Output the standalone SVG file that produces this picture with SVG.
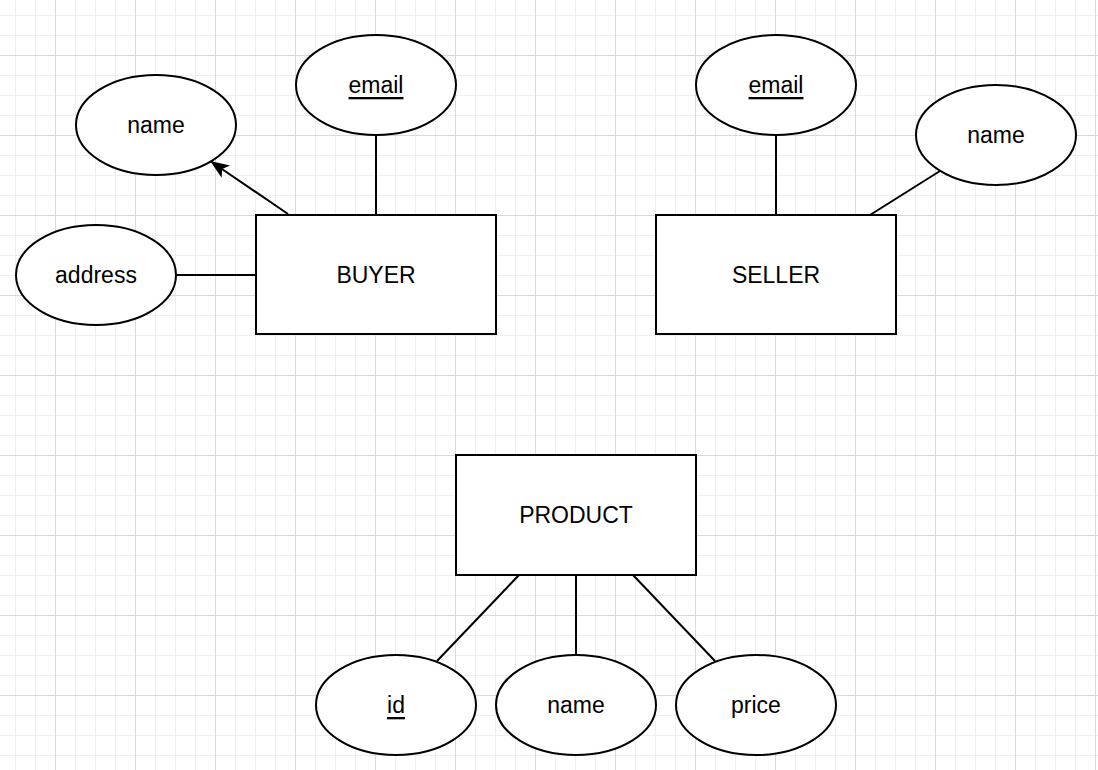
<svg xmlns="http://www.w3.org/2000/svg" width="1098" height="770" viewBox="0 0 1098 770">
<style>
.ent{fill:#fff;stroke:#000;stroke-width:2}
.attr{fill:#fff;stroke:#000;stroke-width:2}
.lbl{font-family:"Liberation Sans",Arial,sans-serif;font-size:23px;fill:#000;text-anchor:middle;dominant-baseline:central}
.key{text-decoration:underline}
.conn{stroke:#000;stroke-width:2;fill:none}
</style>
<defs>
<pattern id="minor" x="15" y="15" width="20" height="20" patternUnits="userSpaceOnUse">
<path d="M0 0H20M0 0V20" stroke="#efefef" stroke-width="2" fill="none"/>
</pattern>
<pattern id="major" x="55" y="55" width="80" height="80" patternUnits="userSpaceOnUse">
<path d="M0 0H80M0 0V80" stroke="#d4d4d4" stroke-width="1.5" fill="none"/>
</pattern>
<marker id="arrow" viewBox="0 0 19 15" refX="18" refY="7.5" markerWidth="19" markerHeight="15" markerUnits="userSpaceOnUse" orient="auto" overflow="visible">
<path d="M0 0L19 7.5L0 15L4.5 7.5Z" fill="#000"/>
</marker>
</defs>
<rect width="1098" height="770" fill="#fff"/>
<rect width="1098" height="770" fill="url(#minor)"/>
<rect width="1098" height="770" fill="url(#major)"/>
<g id="connectors">
<line class="conn" x1="376" y1="135" x2="376" y2="215"/>
<line class="conn" x1="288" y1="214" x2="211" y2="161.5" marker-end="url(#arrow)"/>
<line class="conn" x1="176" y1="275" x2="256" y2="275"/>
<line class="conn" x1="776" y1="135" x2="776" y2="215"/>
<line class="conn" x1="870" y1="215" x2="940" y2="171"/>
<line class="conn" x1="519" y1="575" x2="437" y2="661"/>
<line class="conn" x1="576" y1="575" x2="576" y2="655"/>
<line class="conn" x1="633" y1="575" x2="715" y2="661"/>
</g>
<g id="buyer"><rect class="ent" x="256" y="215" width="240" height="119"/><text class="lbl" x="376" y="275">BUYER</text></g>
<g id="seller"><rect class="ent" x="656" y="215" width="240" height="119"/><text class="lbl" x="776" y="275">SELLER</text></g>
<g id="product"><rect class="ent" x="456" y="455" width="240" height="120"/><text class="lbl" x="576" y="515">PRODUCT</text></g>
<g id="buyer-name"><ellipse class="attr" cx="156" cy="125" rx="80" ry="50"/><text class="lbl" x="156" y="125">name</text></g>
<g id="buyer-email"><ellipse class="attr" cx="376" cy="85" rx="80" ry="50"/><text class="lbl key" x="376" y="85">email</text></g>
<g id="buyer-address"><ellipse class="attr" cx="96" cy="275" rx="80" ry="50"/><text class="lbl" x="96" y="275">address</text></g>
<g id="seller-email"><ellipse class="attr" cx="776" cy="85" rx="80" ry="50"/><text class="lbl key" x="776" y="85">email</text></g>
<g id="seller-name"><ellipse class="attr" cx="996" cy="135" rx="80" ry="50"/><text class="lbl" x="996" y="135">name</text></g>
<g id="product-id"><ellipse class="attr" cx="396" cy="705" rx="80" ry="50"/><text class="lbl key" x="396" y="705">id</text></g>
<g id="product-name"><ellipse class="attr" cx="576" cy="705" rx="80" ry="50"/><text class="lbl" x="576" y="705">name</text></g>
<g id="product-price"><ellipse class="attr" cx="756" cy="705" rx="80" ry="50"/><text class="lbl" x="756" y="705">price</text></g>
</svg>
